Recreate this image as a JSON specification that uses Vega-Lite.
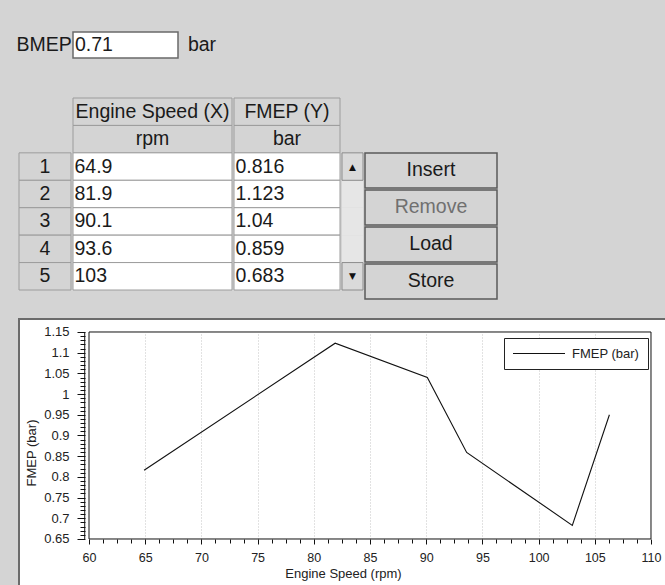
{
  "$schema": "https://vega.github.io/schema/vega-lite/v6.json",
  "background": "#d4d4d4",
  "padding": {"left": 16, "top": 31, "right": 0, "bottom": 0},
  "config": {
    "font": "Liberation Sans",
    "view": {"stroke": null},
    "text": {"font": "Liberation Sans", "fontSize": 19.5, "color": "#1a1a1a"}
  },
  "datasets": {
    "points": [
      {"row": 1, "speed": 64.9, "fmep": 0.816},
      {"row": 2, "speed": 81.9, "fmep": 1.123},
      {"row": 3, "speed": 90.1, "fmep": 1.04},
      {"row": 4, "speed": 93.6, "fmep": 0.859},
      {"row": 5, "speed": 103, "fmep": 0.683},
      {"row": 6, "speed": 106.3, "fmep": 0.95}
    ],
    "columns": [
      {"col": "speed", "name": "Engine Speed (X)", "unit": "rpm"},
      {"col": "fmep", "name": "FMEP (Y)", "unit": "bar"}
    ],
    "bmep": [{"label": "BMEP", "value": "0.71", "unit": "bar"}],
    "buttons": [{"button": "Insert"}, {"button": "Remove"}, {"button": "Load"}, {"button": "Store"}],
    "scroll": [
      {"row": 1, "part": "up"},
      {"row": 2, "part": "thumb"},
      {"row": 3, "part": "thumb"},
      {"row": 4, "part": "thumb"},
      {"row": 5, "part": "down"}
    ]
  },
  "resolve": {"scale": {"color": "independent"}, "legend": {"color": "independent"}},
  "spacing": 18,
  "vconcat": [
    {
      "spacing": 38,
      "vconcat": [
        {
          "spacing": 0,
          "hconcat": [
            {
              "width": 50, "height": 26,
              "data": {"name": "bmep"},
              "mark": {"type": "text"},
              "encoding": {"text": {"field": "label", "type": "nominal"}}
            },
            {
              "width": 105, "height": 26,
              "data": {"name": "bmep"},
              "encoding": {
                "x": {"field": "label", "type": "nominal", "axis": null, "scale": {"paddingInner": 0, "paddingOuter": 0}}
              },
              "layer": [
                {"mark": {"type": "rect", "fill": "white", "stroke": "#6a6a6a", "strokeWidth": 1.5}},
                {"mark": {"type": "text", "align": "left", "dx": 2}, "encoding": {"x": {"field": "label", "type": "nominal", "bandPosition": 0, "axis": null}, "text": {"field": "value", "type": "nominal"}}}
              ]
            },
            {
              "width": 46, "height": 26,
              "data": {"name": "bmep"},
              "mark": {"type": "text"},
              "encoding": {"text": {"field": "unit", "type": "nominal"}}
            }
          ]
        },
        {
          "spacing": 0,
          "hconcat": [
            {
              "width": 52, "height": 192,
              "data": {"name": "points"},
              "transform": [{"filter": "datum.row <= 5"}],
              "encoding": {
                "y": {"field": "row", "type": "ordinal", "axis": null, "scale": {"domain": ["name", "unit", 1, 2, 3, 4, 5], "paddingInner": 0, "paddingOuter": 0}}
              },
              "layer": [
                {"mark": {"type": "rect", "fill": "#d4d4d4", "stroke": "#9c9c9c", "strokeWidth": 1}},
                {"mark": {"type": "text"}, "encoding": {"text": {"field": "row", "type": "nominal"}}}
              ]
            },
            {
              "width": 159, "height": 192,
              "layer": [
                {
                  "data": {"name": "columns"},
                  "transform": [{"filter": "datum.col == 'speed'"}, {"fold": ["name", "unit"], "as": ["row", "txt"]}],
                  "encoding": {
                    "x": {"field": "col", "type": "nominal", "axis": null, "scale": {"paddingInner": 0, "paddingOuter": 0}},
                    "y": {"field": "row", "type": "ordinal", "axis": null, "scale": {"domain": ["name", "unit", 1, 2, 3, 4, 5], "paddingInner": 0, "paddingOuter": 0}}
                  },
                  "layer": [
                    {"mark": {"type": "rect", "fill": "#d4d4d4", "stroke": "#9c9c9c", "strokeWidth": 1}},
                    {"mark": {"type": "text"}, "encoding": {"text": {"field": "txt", "type": "nominal"}}}
                  ]
                },
                {
                  "data": {"name": "points"},
                  "transform": [{"filter": "datum.row <= 5"}, {"fold": ["speed", "fmep"], "as": ["col", "val"]}, {"filter": "datum.col == 'speed'"}],
                  "encoding": {
                    "x": {"field": "col", "type": "nominal", "axis": null, "scale": {"paddingInner": 0, "paddingOuter": 0}},
                    "y": {"field": "row", "type": "ordinal", "axis": null, "scale": {"domain": ["name", "unit", 1, 2, 3, 4, 5], "paddingInner": 0, "paddingOuter": 0}}
                  },
                  "layer": [
                    {"mark": {"type": "rect", "fill": "white", "stroke": "#9c9c9c", "strokeWidth": 1}},
                    {"mark": {"type": "text", "align": "left", "dx": 1.5}, "encoding": {"x": {"field": "col", "type": "nominal", "bandPosition": 0, "axis": null}, "text": {"field": "val", "type": "nominal"}}}
                  ]
                }
              ]
            },
            {
              "width": 106, "height": 192,
              "layer": [
                {
                  "data": {"name": "columns"},
                  "transform": [{"filter": "datum.col == 'fmep'"}, {"fold": ["name", "unit"], "as": ["row", "txt"]}],
                  "encoding": {
                    "x": {"field": "col", "type": "nominal", "axis": null, "scale": {"paddingInner": 0, "paddingOuter": 0}},
                    "y": {"field": "row", "type": "ordinal", "axis": null, "scale": {"domain": ["name", "unit", 1, 2, 3, 4, 5], "paddingInner": 0, "paddingOuter": 0}}
                  },
                  "layer": [
                    {"mark": {"type": "rect", "fill": "#d4d4d4", "stroke": "#9c9c9c", "strokeWidth": 1}},
                    {"mark": {"type": "text"}, "encoding": {"text": {"field": "txt", "type": "nominal"}}}
                  ]
                },
                {
                  "data": {"name": "points"},
                  "transform": [{"filter": "datum.row <= 5"}, {"fold": ["speed", "fmep"], "as": ["col", "val"]}, {"filter": "datum.col == 'fmep'"}],
                  "encoding": {
                    "x": {"field": "col", "type": "nominal", "axis": null, "scale": {"paddingInner": 0, "paddingOuter": 0}},
                    "y": {"field": "row", "type": "ordinal", "axis": null, "scale": {"domain": ["name", "unit", 1, 2, 3, 4, 5], "paddingInner": 0, "paddingOuter": 0}}
                  },
                  "layer": [
                    {"mark": {"type": "rect", "fill": "white", "stroke": "#9c9c9c", "strokeWidth": 1}},
                    {"mark": {"type": "text", "align": "left", "dx": 1.5}, "encoding": {"x": {"field": "col", "type": "nominal", "bandPosition": 0, "axis": null}, "text": {"field": "val", "type": "nominal"}}}
                  ]
                }
              ]
            },
            {
              "width": 21, "height": 192,
              "data": {"name": "scroll"},
              "encoding": {
                "y": {"field": "row", "type": "ordinal", "axis": null, "scale": {"domain": ["name", "unit", 1, 2, 3, 4, 5], "paddingInner": 0, "paddingOuter": 0}}
              },
              "layer": [
                {"transform": [{"filter": "datum.part == 'thumb'"}], "mark": {"type": "rect", "fill": "#e6e6e6", "stroke": null}},
                {"transform": [{"filter": "datum.part != 'thumb'"}], "mark": {"type": "rect", "fill": "#dadada", "stroke": "#8c8c8c", "strokeWidth": 1}},
                {"transform": [{"filter": "datum.part == 'up'"}], "mark": {"type": "text", "text": "▲", "font": "DejaVu Sans", "fontSize": 9, "color": "#111"}},
                {"transform": [{"filter": "datum.part == 'down'"}], "mark": {"type": "text", "text": "▼", "font": "DejaVu Sans", "fontSize": 9, "color": "#111"}}
              ]
            },
            {
              "width": 132, "height": 201,
              "data": {"name": "buttons"},
              "encoding": {
                "y": {"field": "button", "type": "ordinal", "axis": null, "scale": {"domain": ["Insert", "Remove", "Load", "Store"], "paddingInner": 0.054, "paddingOuter": 0.743, "align": 1}}
              },
              "layer": [
                {"mark": {"type": "rect", "fill": "#d4d4d4", "stroke": "#5a5a5a", "strokeWidth": 1.5}},
                {"mark": {"type": "text"}, "encoding": {"text": {"field": "button", "type": "nominal"}, "color": {"condition": {"test": "datum.button == 'Remove'", "value": "#707070"}, "value": "#1a1a1a"}}}
              ]
            }
          ]
        }
      ]
    },
    {
      "width": 648,
      "height": 267,
      "view": {"fill": "white", "stroke": "#6b6b6b", "strokeWidth": 2},
      "resolve": {"axis": {"x": "independent", "y": "independent"}},
      "layer": [
        {
          "data": {"values": [{}]},
          "mark": {"type": "rect", "fill": null, "stroke": "#111", "strokeWidth": 1},
          "encoding": {
            "x": {"datum": 60, "type": "quantitative", "scale": {"domain": [53.772, 111.4235], "nice": false, "zero": false},
              "axis": {"orient": "bottom", "offset": -47, "values": [65, 70, 75, 80, 85, 90, 95, 100, 105], "labels": false, "domain": false, "grid": false, "tickSize": -207, "tickDash": [1, 2], "tickColor": "#c4c4c4", "tickWidth": 1, "title": null}},
            "x2": {"datum": 110},
            "y": {"datum": 0.65, "type": "quantitative", "scale": {"domain": [0.53647, 1.1814], "nice": false, "zero": false},
              "axis": {"orient": "left", "offset": -66, "values": [0.66, 0.67, 0.68, 0.69, 0.71, 0.72, 0.73, 0.74, 0.76, 0.77, 0.78, 0.79, 0.81, 0.82, 0.83, 0.84, 0.86, 0.87, 0.88, 0.89, 0.91, 0.92, 0.93, 0.94, 0.96, 0.97, 0.98, 0.99, 1.01, 1.02, 1.03, 1.04, 1.06, 1.07, 1.08, 1.09, 1.11, 1.12, 1.13, 1.14], "labels": false, "domain": false, "grid": false, "tickSize": 5, "tickColor": "#111", "tickWidth": 1, "title": null}},
            "y2": {"datum": 1.15}
          }
        },
        {
          "data": {"values": [{}]},
          "mark": {"type": "rule", "color": "#111", "strokeWidth": 1},
          "encoding": {
            "x": {"datum": 59.62, "type": "quantitative", "scale": {"domain": [53.772, 111.4235], "nice": false, "zero": false},
              "axis": {"orient": "bottom", "offset": -47, "values": [61.25, 62.5, 63.75, 66.25, 67.5, 68.75, 71.25, 72.5, 73.75, 76.25, 77.5, 78.75, 81.25, 82.5, 83.75, 86.25, 87.5, 88.75, 91.25, 92.5, 93.75, 96.25, 97.5, 98.75, 101.25, 102.5, 103.75, 106.25, 107.5, 108.75], "labels": false, "domain": false, "grid": false, "tickSize": 4, "tickColor": "#111", "tickWidth": 1, "title": null}},
            "y": {"datum": 0.65, "type": "quantitative", "scale": {"domain": [0.53647, 1.1814], "nice": false, "zero": false}, "axis": null},
            "y2": {"datum": 1.15}
          }
        },
        {
          "data": {"name": "points"},
          "mark": {"type": "line", "strokeWidth": 1.1},
          "encoding": {
            "x": {"field": "speed", "type": "quantitative", "scale": {"domain": [53.772, 111.4235], "nice": false, "zero": false},
              "axis": {"orient": "bottom", "offset": -47, "values": [60, 65, 70, 75, 80, 85, 90, 95, 100, 105, 110], "format": "~g", "domain": false, "grid": false, "tickSize": 5, "tickColor": "#111", "tickWidth": 1, "labelFontSize": 12.5, "labelColor": "#222", "labelPadding": 7, "labelFlush": false, "labelOverlap": false, "title": "Engine Speed (rpm)", "titleFontSize": 13, "titleFontWeight": "normal", "titleColor": "#222", "titlePadding": 4}},
            "y": {"field": "fmep", "type": "quantitative", "scale": {"domain": [0.53647, 1.1814], "nice": false, "zero": false},
              "axis": {"orient": "left", "offset": -66, "values": [0.65, 0.7, 0.75, 0.8, 0.85, 0.9, 0.95, 1, 1.05, 1.1, 1.15], "format": "~g", "domain": false, "grid": false, "tickSize": 8, "tickColor": "#111", "tickWidth": 1, "labelFontSize": 13, "labelColor": "#222", "labelPadding": 8, "labelFlush": false, "labelOverlap": false, "title": "FMEP (bar)", "titleFontSize": 13, "titleFontWeight": "normal", "titleColor": "#222", "titlePadding": 5}},
            "color": {"datum": "FMEP (bar)", "type": "nominal", "scale": {"range": ["#111111"]},
              "legend": {"orient": "top-right", "offset": 19, "title": null, "strokeColor": "#222", "fillColor": "white", "padding": 8, "symbolType": "M-4,0H4", "symbolSize": 169, "symbolOffset": 19.5, "symbolStrokeWidth": 1.2, "labelFontSize": 13, "labelColor": "#222", "labelOffset": 25.5}}
          }
        }
      ]
    }
  ]
}
